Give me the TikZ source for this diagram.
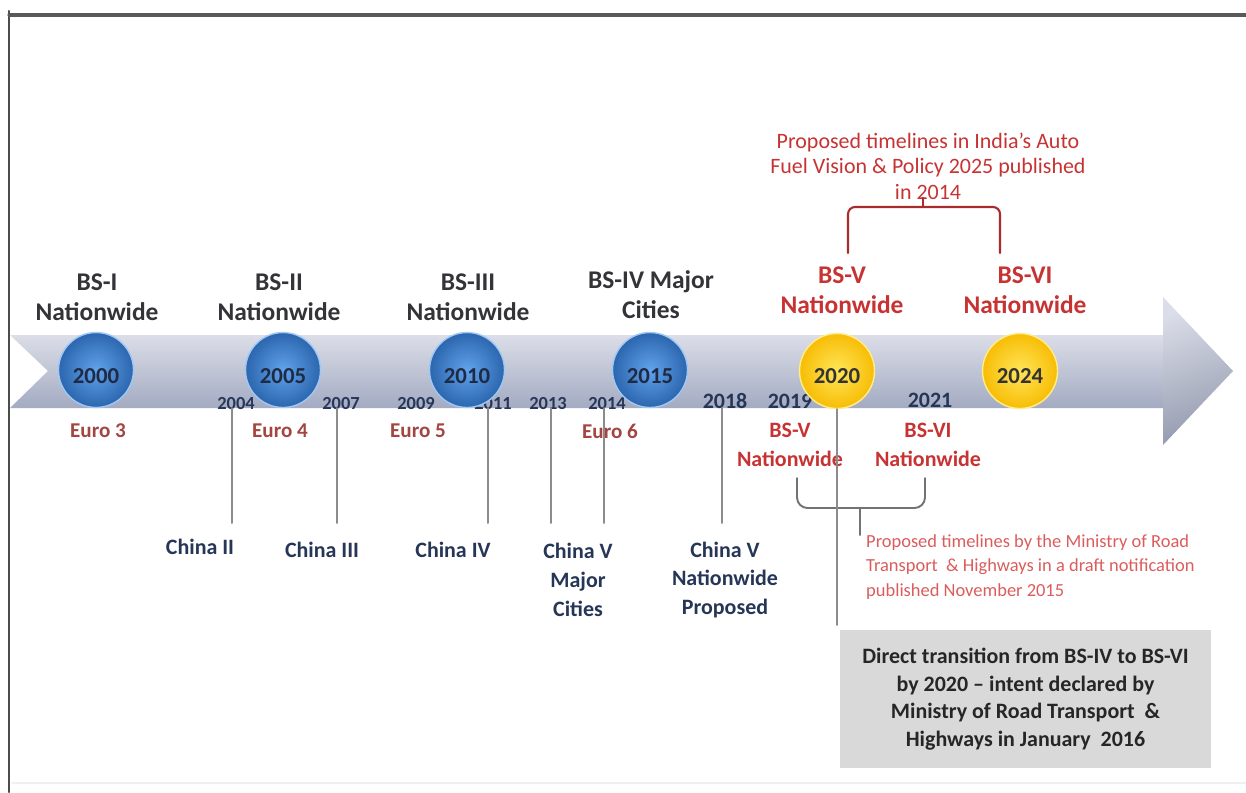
\documentclass[tikz,border=0pt]{standalone}
\usepackage{fontspec}
\setmainfont{Carlito}
\definecolor{ttttww}{rgb}{0.2,0.2,0.22}
\definecolor{ccqqqq}{rgb}{0.78,0.2,0.2}
\definecolor{aattqq}{rgb}{0.64,0.27,0.25}
\definecolor{qqttww}{rgb}{0.15,0.21,0.34}
\definecolor{ddwwww}{rgb}{0.86,0.36,0.36}
\definecolor{bandtop}{rgb}{0.86,0.87,0.91}
\definecolor{bandmid}{rgb}{0.77,0.79,0.85}
\definecolor{bandbot}{rgb}{0.64,0.67,0.76}
\definecolor{qqwwcc}{rgb}{0.2,0.47,0.8}
\definecolor{wwxxff}{rgb}{0.38,0.64,0.93}
\definecolor{ffccqq}{rgb}{0.97,0.74,0.02}
\definecolor{ffeexx}{rgb}{1.0,0.9,0.35}
\definecolor{xxxxxx}{rgb}{0.55,0.55,0.55}
\definecolor{ddddee}{rgb}{0.85,0.85,0.85}

\begin{document}
\begin{tikzpicture}[line cap=round,line join=round,x=0.02cm,y=-0.02cm,
  head/.style={align=center,text=ttttww,font=\fontsize{14.5}{17}\selectfont\bfseries},
  headred/.style={head,text=ccqqqq},
  euro/.style={text=aattqq,font=\fontsize{12}{14}\selectfont\bfseries},
  yr/.style={text=qqttww,font=\fontsize{10.5}{12}\selectfont\bfseries},
  yrbig/.style={text=qqttww,font=\fontsize{12.5}{14}\selectfont\bfseries},
  china/.style={align=center,text=qqttww,font=\fontsize{12.5}{16.5}\selectfont\bfseries},
  lowred/.style={align=center,text=ccqqqq,font=\fontsize{12.5}{16.5}\selectfont\bfseries},
  bluedisc/.style={circle,minimum size=1.5cm,inner sep=0pt,inner color=wwxxff,outer color=qqwwcc!85!black,draw=wwxxff!60!white,line width=0.8pt},
  golddisc/.style={circle,minimum size=1.5cm,inner sep=0pt,inner color=ffeexx,outer color=ffccqq,draw=ffeexx!70!white,line width=0.8pt},
  discyear/.style={text=qqttww!80!black,font=\fontsize{13}{15}\selectfont\bfseries},
  vline/.style={color=xxxxxx,line width=1.1pt}]
\useasboundingbox (0,0) rectangle (1246,792);
% frame
\draw[line width=1.2pt,color=black!70] (9,792) -- (9,11);
\draw[line width=1.8pt,color=black!65] (9,15) -- (1246,15);
\draw[line width=0.8pt,color=black!6] (12,783) -- (1246,783);
% timeline arrow
\shade[top color=bandtop,middle color=bandmid,bottom color=bandbot] (10,335) -- (1164,335) -- (1164,408) -- (10,408) -- (48,371) -- cycle;
\shade[top color=bandtop,bottom color=bandbot!90!black,shading angle=20] (1163,297) -- (1233,371) -- (1163,445) -- cycle;
% small years on the band
\node[yr] (t2004) at (236,404) {2004};
\node[yr] (t2007) at (341,404) {2007};
\node[yr] (t2009) at (416,404) {2009};
\node[yr] (t2011) at (493,404) {2011};
\node[yr] (t2013) at (548,404) {2013};
\node[yr] (t2014) at (607,404) {2014};
\node[yrbig] (t2018) at (725,401) {2018};
\node[yrbig] (t2019) at (790,401) {2019};
\node[yrbig] (t2021) at (930,400) {2021};
% milestones
\node[bluedisc] (c2000) at (96,370) {};
\node[bluedisc] (c2005) at (283,370) {};
\node[bluedisc] (c2010) at (467,370) {};
\node[bluedisc] (c2015) at (650,370) {};
\node[golddisc] (c2020) at (837,371) {};
\node[golddisc] (c2024) at (1020,371) {};
\node[discyear] (y2000) at (96,376) {2000};
\node[discyear] (y2005) at (283,376) {2005};
\node[discyear] (y2010) at (467,376) {2010};
\node[discyear] (y2015) at (650,376) {2015};
\node[discyear,text=black!80] (y2020) at (837,376) {2020};
\node[discyear,text=black!80] (y2024) at (1020,376) {2024};
% stages above
\node[head] (bsi) at (97,297) {BS-I\\Nationwide};
\node[head] (bsii) at (279,297) {BS-II\\Nationwide};
\node[head] (bsiii) at (468,297) {BS-III\\Nationwide};
\node[head] (bsiv) at (651,295) {BS-IV Major\\Cities};
\node[headred] (bsv) at (842,290) {BS-V\\Nationwide};
\node[headred] (bsvi) at (1025,290) {BS-VI\\Nationwide};
\node[align=center,text=ccqqqq,font=\fontsize{12.5}{14.5}\selectfont] (afv) at (928,166) {Proposed timelines in India's Auto\\Fuel Vision \& Policy 2025 published\\in 2014};
\draw[color=ccqqqq!85!black,line width=1.2pt,rounded corners=4pt] (848,253) -- (848,207) -- (1000,207) -- (1000,253);
\draw[color=ccqqqq!85!black,line width=1.2pt] (923,207) -- (923,198);
% euro norms
\node[euro] (euro3) at (98,431) {Euro 3};
\node[euro] (euro4) at (280,431) {Euro 4};
\node[euro] (euro5) at (418,431) {Euro 5};
\node[euro] (euro6) at (610,431) {Euro 6};
% china norms
\foreach \x [count=\i] in {232,337,488,551,604,722}
{
\coordinate (top\i) at (\x,408);
\coordinate (bot\i) at (\x,523);
\draw[vline] (top\i) -- (bot\i);
}
\node[china] (china2) at (200,547) {China II};
\node[china] (china3) at (322,550) {China III};
\node[china] (china4) at (453,550) {China IV};
\node[china] (china5a) at (578,580) {China V\\Major\\Cities};
\node[china] (china5b) at (725,580) {China V\\Nationwide\\Proposed};
% draft notification
\node[lowred] (dbsv) at (790,445) {BS-V\\Nationwide};
\node[lowred] (dbsvi) at (928,445) {BS-VI\\Nationwide};
\draw[vline,color=black!55,rounded corners=6pt] (797,478) -- (797,508) -- (925,508) -- (925,478);
\draw[vline,color=black!55] (860,508) -- (860,535);
\node[anchor=west,align=left,text=ddwwww,font=\fontsize{10.5}{13.9}\selectfont] (draft) at (860,567) {Proposed timelines by the Ministry of Road\\Transport\ \ \& Highways in a draft notification\\published November 2015};
% direct transition
\coordinate (p2020) at (837,625);
\draw[vline] (c2020.south) -- (p2020);
\node[fill=ddddee,minimum width=7.42cm,minimum height=2.76cm,align=center,text=black!85,font=\fontsize{12.5}{15.7}\selectfont\bfseries] (intent) at (1025.5,699) {Direct transition from BS-IV to BS-VI\\by 2020 -- intent declared by\\Ministry of Road Transport\ \ \&\\Highways in January\ \ 2016};
\end{tikzpicture}
\end{document}
